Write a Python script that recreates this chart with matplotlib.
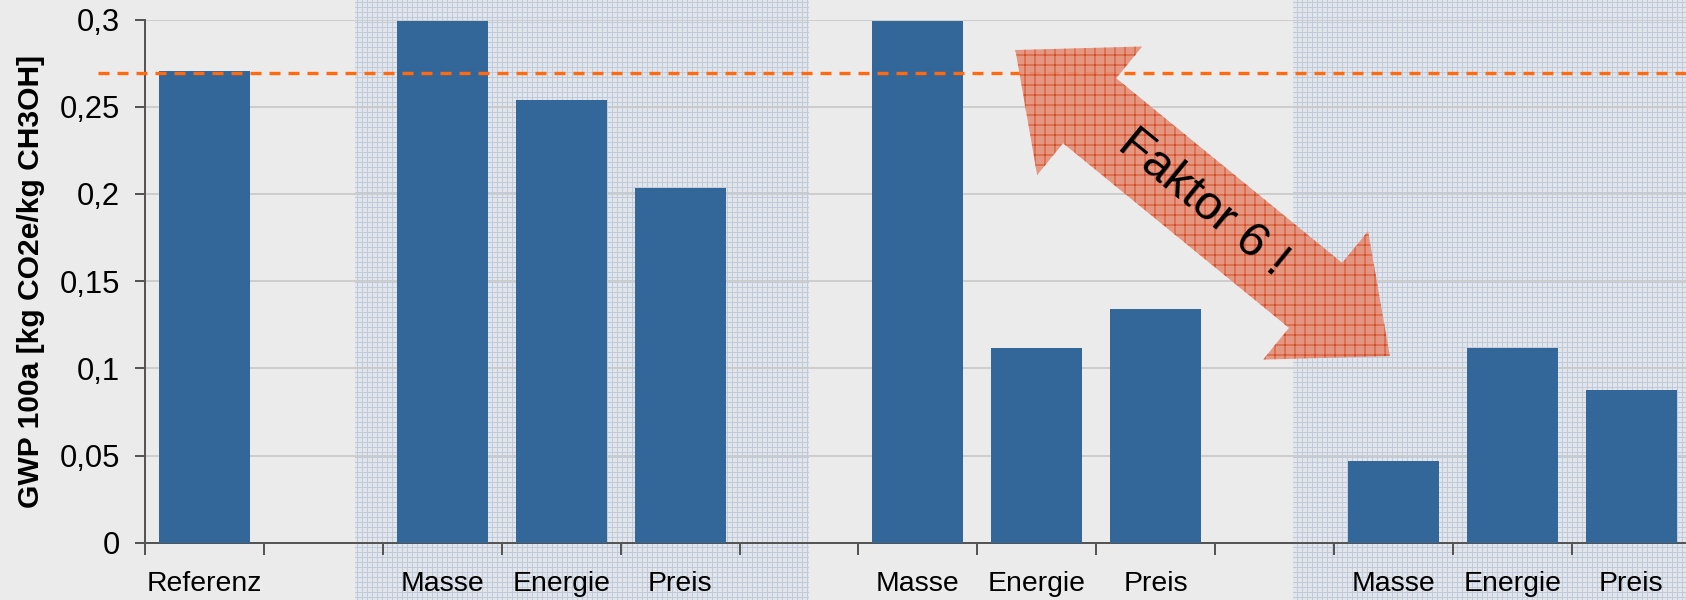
import numpy as np
import matplotlib
matplotlib.use("Agg")
import matplotlib.pyplot as plt
from matplotlib.patches import Rectangle, Polygon
from matplotlib.ticker import FuncFormatter
from matplotlib import transforms

plt.rcParams['font.family'] = ['Liberation Sans', 'DejaVu Sans']
plt.rcParams['hatch.linewidth'] = 0.6

# data
categories = ["Referenz", "", "Masse", "Energie", "Preis", "",
              "Masse", "Energie", "Preis", "", "Masse", "Energie", "Preis"]
values = [0.2705, np.nan, 0.299, 0.2538, 0.2034, np.nan,
          0.299, 0.1116, 0.134, np.nan, 0.0468, 0.1116, 0.0876]
ref_level = 0.2695
y_ticks = [0, 0.05, 0.1, 0.15, 0.2, 0.25, 0.3]

# shaded groups (data x range) and the "Faktor 6" arrow (data coords)
shaded = [(1.266, 5.085), (9.155, 13.0)]
arrow_start = (6.82, 0.2825)
arrow_end = (9.97, 0.107)

DPI = 120
fig = plt.figure(figsize=(1686 / DPI, 600 / DPI), dpi=DPI, facecolor="#ebebeb")
ax = fig.add_axes([145 / 1686, 1 - 542.7 / 600, 1545.7 / 1686, 523.2 / 600])
ax.set_facecolor("none")

x = np.arange(len(categories))
vals = np.array(values)
ok = ~np.isnan(vals)
ax.bar(x[ok], vals[ok], width=0.765, color="#336699", zorder=3)

ax.set_xlim(-0.5, len(categories) - 0.5)
ax.set_ylim(0, 0.3)

# x ticks at the category borders, labels in the middle
ax.set_xticks(np.arange(-0.5, len(categories), 1.0))
ax.set_xticklabels([])
ax.set_xticks(x, minor=True)
ax.set_xticklabels(categories, minor=True, fontsize=17)
ax.tick_params(axis="x", which="major", length=7, width=1.2, color="#555555", direction="out")
ax.tick_params(axis="x", which="minor", length=0, pad=17)

ax.set_yticks(y_ticks)
ax.yaxis.set_major_formatter(FuncFormatter(lambda v, p: ("%g" % v).replace(".", ",")))
ax.tick_params(axis="y", length=6, width=1.2, color="#555555", labelsize=18.5, pad=9)

for s in ["top", "right"]:
    ax.spines[s].set_visible(False)
for s in ["left", "bottom"]:
    ax.spines[s].set_color("#555555")
    ax.spines[s].set_linewidth(1.2)

ax.yaxis.grid(True, color="#c8c8c8", linewidth=1.0, zorder=0)
ax.set_axisbelow(True)

ax.axhline(ref_level, xmin=-0.0304, xmax=1.0, color="#ff6a10", linewidth=2.0,
           dashes=(3.3, 2.4), clip_on=False, zorder=4)

fig.text(31 / 1686, 0.531, "GWP 100a [kg CO2e/kg CH3OH]", rotation=90,
         ha="center", va="center", fontsize=18, fontweight="bold")

# dotted background panels behind the grouped bars
blend = transforms.blended_transform_factory(ax.transData, fig.transFigure)
for x0, x1 in shaded:
    fig.add_artist(Rectangle((x0, 0), x1 - x0, 1, transform=blend,
                             facecolor="#e2e6eb", edgecolor="#bfcbdb", hatch="++++",
                             linewidth=0, zorder=-1))

# double headed block arrow
p0 = ax.transData.transform(arrow_start)
p1 = ax.transData.transform(arrow_end)
d = p1 - p0
L = np.hypot(*d)
u = d / L
n = np.array([-u[1], u[0]])
hl, hw, sw = 96, 166, 84
h0 = p0 + u * hl
h1 = p1 - u * hl
pts = [p0, h0 + n * hw / 2, h0 + n * sw / 2, h1 + n * sw / 2, h1 + n * hw / 2,
       p1, h1 - n * hw / 2, h1 - n * sw / 2, h0 - n * sw / 2, h0 - n * hw / 2]
arrow = Polygon(pts, closed=True, transform=None, facecolor="#e68e77",
                edgecolor="#d2441a", hatch="++", linewidth=0, alpha=0.9, zorder=5)
fig.add_artist(arrow)
mid = (p0 + p1) / 2
angle = np.degrees(np.arctan2(d[1], d[0]))
fig.text(mid[0] / fig.bbox.width, mid[1] / fig.bbox.height, "Faktor 6 !",
         rotation=angle, rotation_mode="anchor", ha="center", va="center",
         fontsize=29, zorder=6)

fig.savefig("out.png", dpi=DPI, facecolor=fig.get_facecolor())
